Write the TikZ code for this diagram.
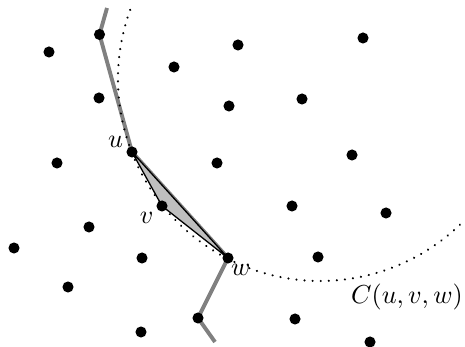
\documentclass[tikz,border=0pt]{standalone}
\usepackage{amsmath,amssymb}
\usepackage{xcolor}
\usepackage{tikz}
\usetikzlibrary{backgrounds}
\tikzset{
  % Delaunay point set styles
  site/.style={circle, fill=black, draw=none, inner sep=0pt, minimum size=0.15cm},
  chain/.style={draw=gray, line width=1.5pt},
  tri/.style={draw=black, fill=black!25, line width=0.5pt},
  circum/.style={line width=0.9pt, dash pattern=on 0.01pt off 3.1pt, line cap=round},
}

\begin{document}
\begin{tikzpicture}[x=0.0135cm, y=-0.0135cm]
    \useasboundingbox (0,0) rectangle (465,347);

    % Sites
    \node[site] (p1) at (49,52) {};
    \node[site] (p2) at (99.5,34.5) {};
    \node[site] (p3) at (238,45) {};
    \node[site] (p4) at (363,38) {};
    \node[site] (p5) at (174,67) {};
    \node[site] (p6) at (99,98) {};
    \node[site] (p7) at (229,106) {};
    \node[site] (p8) at (302,99) {};
    \node[site, label={[inner sep=1pt]168:$u$}] (u) at (132,152) {};
    \node[site] (p10) at (57,163) {};
    \node[site] (p11) at (217,163) {};
    \node[site] (p12) at (352,155) {};
    \node[site, label={[inner sep=1pt]208:$v$}] (v) at (162,206) {};
    \node[site] (p14) at (292,206) {};
    \node[site] (p15) at (386,213) {};
    \node[site] (p16) at (89,227) {};
    \node[site] (p17) at (14,248) {};
    \node[site] (p18) at (142,258) {};
    \node[site, label={[inner sep=0pt]-65:$w$}] (w) at (228,258) {};
    \node[site] (p20) at (318,257) {};
    \node[site] (p21) at (68,287) {};
    \node[site] (p22) at (198,318) {};
    \node[site] (p23) at (295,319) {};
    \node[site] (p24) at (141,332) {};
    \node[site] (p25) at (370,342) {};

    % Circle label
    \node (clabel) at (407,297) {$C(u,v,w)$};

    % Free ends of the chain and circle centre
    \coordinate (top) at (107,8);
    \coordinate (bot) at (215,342);
    \coordinate (cc) at (320,79);

    \begin{scope}[on background layer]
      % Chain
      \draw[chain] (top) -- (p2.center) -- (u.center) -- (w.center) -- (p22.center) -- (bot);
      % Triangle
      \draw[tri] (u.center) -- (v.center) -- (w.center) -- cycle;
    \end{scope}

    % Circumcircle
    \draw[circum] ([shift={(200:202)}]cc) arc[start angle=200, end angle=45, radius=202];
  \end{tikzpicture}
\end{document}
